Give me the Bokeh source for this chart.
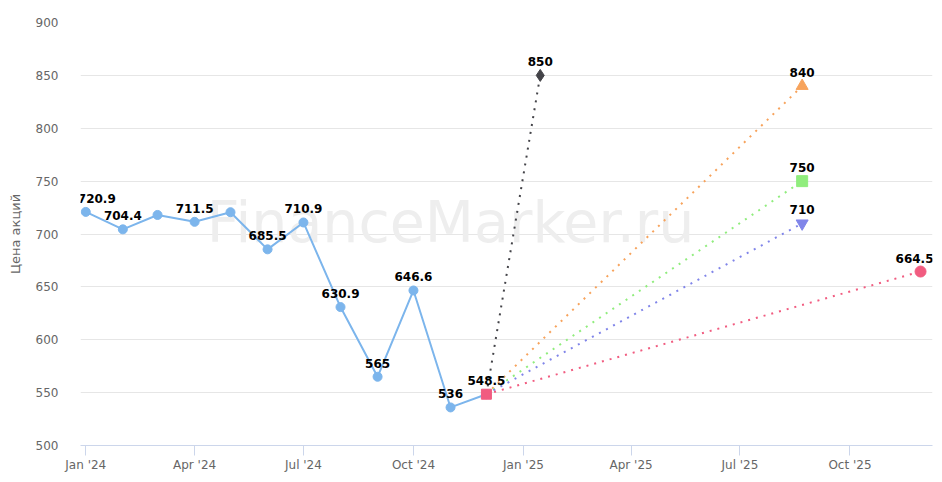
from datetime import datetime
from bokeh.plotting import figure
from bokeh.models import (ColumnDataSource, Range1d, MonthsTicker, DatetimeTickFormatter,
                          Label, LabelSet, FixedTicker)
from bokeh.core.properties import value
from bokeh.embed import file_html
from bokeh.resources import INLINE

# ---- data ----
months = ["2024-01-01", "2024-02-01", "2024-03-01", "2024-04-01", "2024-05-01", "2024-06-01",
          "2024-07-01", "2024-08-01", "2024-09-01", "2024-10-01", "2024-11-01", "2024-12-01"]
prices = [720.9, 704.4, 718.0, 711.5, 720.6, 685.5, 710.9, 630.9, 565.0, 646.6, 536.0, 548.5]
price_labels = ["720.9", "704.4", "", "711.5", "", "685.5", "710.9", "630.9", "565", "646.6", "536", ""]

start_date = "2024-12-01"
start_value = 548.5
target_dates = ["2025-01-15", "2025-08-22", "2025-08-22", "2025-08-22", "2025-11-29"]
target_values = [850, 840, 750, 710, 664.5]
target_labels = ["850", "840", "750", "710", "664.5"]
target_colors = ["#434348", "#f7a35c", "#90ed7d", "#8085e9", "#f15c80"]
target_markers = ["diamond", "triangle", "square", "inverted_triangle", "circle"]
target_sizes = [12, 12, 11, 12, 11]

y_ticks = [500, 550, 600, 650, 700, 750, 800, 850, 900]

FONT = "DejaVu Sans"

def d(s):
    return datetime.strptime(s, "%Y-%m-%d")

p = figure(width=934, height=474, output_backend="svg", toolbar_location=None,
           x_axis_type="datetime",
           x_range=Range1d(datetime(2023, 12, 27, 14), datetime(2025, 12, 9)),
           y_range=Range1d(500, 900),
           min_border_left=80, min_border_right=2, min_border_top=22, min_border_bottom=28)
p.outline_line_color = None
p.background_fill_color = "white"

# watermark
wm = Label(x=d("2024-11-01"), y=711, text="FinanceMarker.ru", text_align="center",
           text_baseline="middle", text_font=FONT, text_font_size="57px",
           text_color="#eeeeee", level="underlay")
p.add_layout(wm)

# grid
p.xgrid.grid_line_color = None
p.ygrid.grid_line_color = "#e6e6e6"
p.ygrid.grid_line_width = 1

# axes
p.yaxis.ticker = FixedTicker(ticks=y_ticks)
p.yaxis.axis_line_color = None
p.yaxis.major_tick_line_color = None
p.yaxis.minor_tick_line_color = None
p.yaxis.major_label_standoff = 16
p.yaxis.major_label_text_font = FONT
p.yaxis.major_label_text_font_size = "12px"
p.yaxis.major_label_text_color = "#666666"
p.yaxis.axis_label = "Цена акций"
p.yaxis.axis_label_text_font = FONT
p.yaxis.axis_label_text_font_size = "13px"
p.yaxis.axis_label_text_font_style = "normal"
p.yaxis.axis_label_text_color = "#666666"
p.yaxis.axis_label_standoff = 10

p.xaxis.ticker = MonthsTicker(months=[0, 3, 6, 9])
p.xaxis.formatter = DatetimeTickFormatter(months="%b '%y", days="%b '%y", years="%b '%y")
p.xaxis.axis_line_color = "#ccd6eb"
p.xaxis.major_tick_line_color = "#ccd6eb"
p.xaxis.major_tick_in = 0
p.xaxis.major_tick_out = 10
p.xaxis.minor_tick_line_color = None
p.xaxis.major_label_standoff = 2
p.xaxis.major_label_text_font = FONT
p.xaxis.major_label_text_font_size = "12px"
p.xaxis.major_label_text_color = "#666666"

# forecast dotted lines
for td, tv, c in zip(target_dates, target_values, target_colors):
    p.line([d(start_date), d(td)], [start_value, tv], line_color=c, line_width=2, line_dash="2 6")

# main series
main_label_dx = [11] + [0] * (len(months) - 1)   # keep first label inside plot area
src = ColumnDataSource(dict(x=[d(m) for m in months], y=prices, lab=price_labels, dx=main_label_dx))
p.line("x", "y", source=src, line_color="#7cb5ec", line_width=2)
p.scatter("x", "y", source=src, size=9, marker="circle", fill_color="#7cb5ec", line_color="#7cb5ec")

# start point of forecasts
p.scatter([d(start_date)], [start_value], marker="square", size=10,
          fill_color="#f15c80", line_color="#f15c80")

# target markers
target_label_dx = [0, 0, 0, 0, -6]   # keep last label inside plot area
tsrc = ColumnDataSource(dict(x=[d(t) for t in target_dates], y=target_values, lab=target_labels,
                             c=target_colors, m=target_markers, s=target_sizes, dx=target_label_dx))
p.scatter("x", "y", source=tsrc, marker="m", size="s", fill_color="c", line_color="c")

# data labels
lbl_kw = dict(text_font=value(FONT), text_font_size=value("12px"), text_font_style="bold",
              text_color="#000000",
              text_align="center", text_baseline="bottom", y_offset=9)
p.add_layout(LabelSet(x="x", y="y", text="lab", source=src, x_offset="dx", **lbl_kw))
p.add_layout(LabelSet(x="x", y="y", text="lab", source=tsrc, x_offset="dx", **lbl_kw))
p.add_layout(Label(x=d(start_date), y=start_value, text="548.5", text_font=FONT,
                   text_font_size="12px", text_font_style="bold", text_color="#000000",
                   text_align="center", text_baseline="bottom", y_offset=9))

open("out.html", "w").write(file_html(p, INLINE))
